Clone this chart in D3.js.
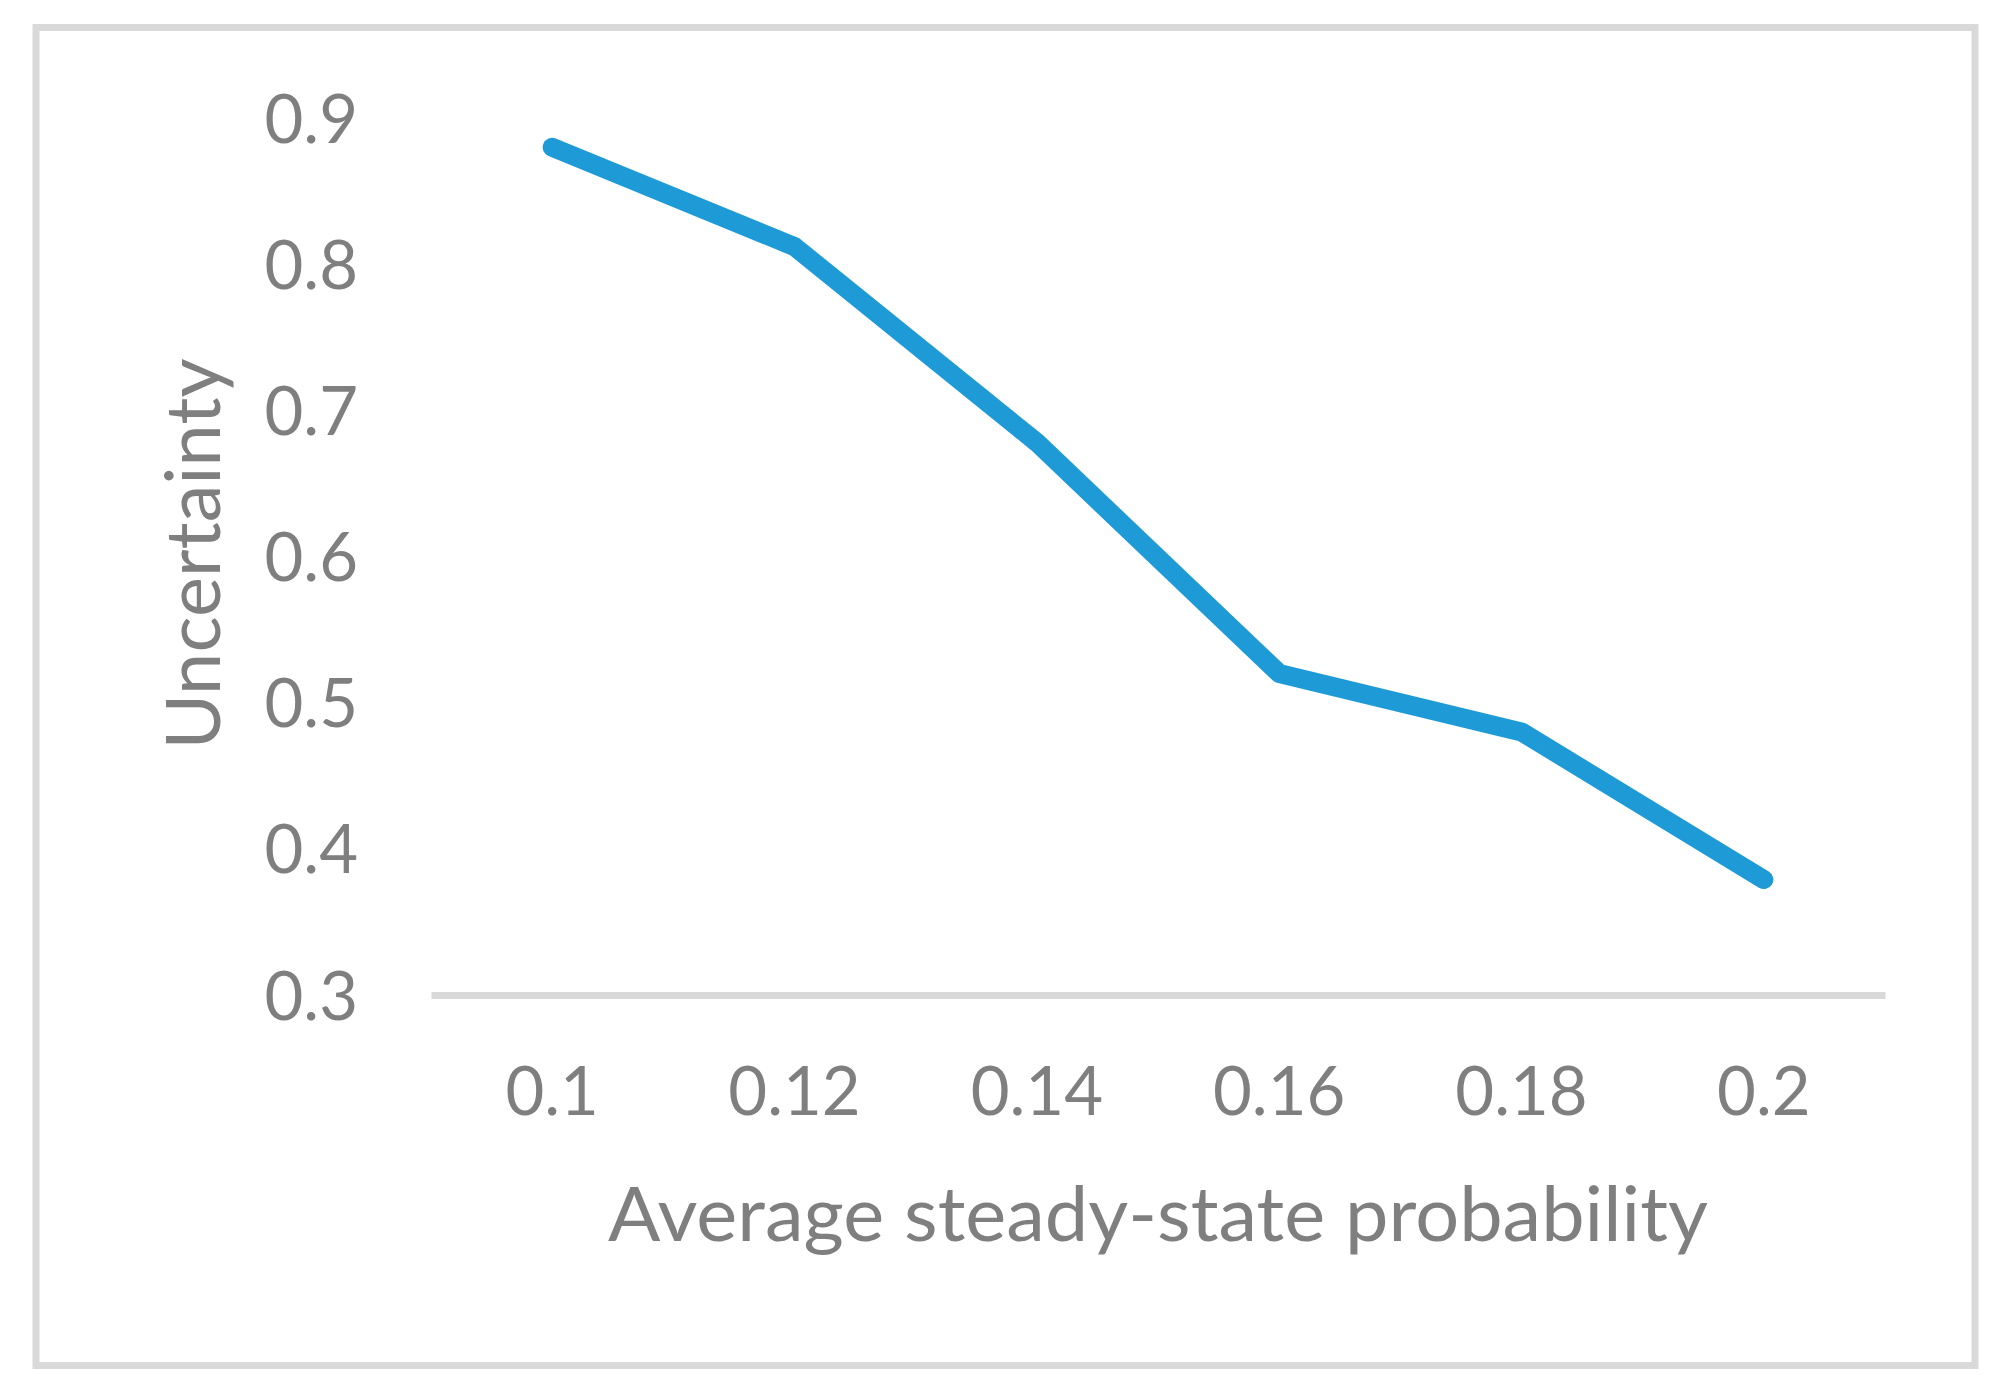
<!DOCTYPE html>
<html>
<head>
<meta charset="utf-8">
<script src="https://cdn.jsdelivr.net/npm/d3@7"></script>
<style>
  html, body { margin: 0; padding: 0; background: #fff; }
</style>
</head>
<body>
<script>
// chart data
const categories = ["0.1", "0.12", "0.14", "0.16", "0.18", "0.2"];
const uncertainty = [0.880, 0.812, 0.678, 0.520, 0.480, 0.379];
const yTicks = [0.3, 0.4, 0.5, 0.6, 0.7, 0.8, 0.9];

const width = 2008, height = 1397;
const textColor = "#7f7f7f";
const lineColor = "#1e9bd7";
const frameColor = "#d9d9d9";
const fontFamily = "Lato, 'Open Sans', sans-serif";

const svg = d3.select("body")
    .append("svg")
    .attr("width", width)
    .attr("height", height)
    .attr("font-family", fontFamily);

// outer frame
svg.append("rect")
    .attr("x", 36)
    .attr("y", 27.5)
    .attr("width", 1939)
    .attr("height", 1338)
    .attr("fill", "#fff")
    .attr("stroke", frameColor)
    .attr("stroke-width", 7);

const plot = { left: 431, right: 1885, top: 118, bottom: 995 };

const x = d3.scaleBand()
    .domain(categories)
    .range([plot.left, plot.right])
    .padding(0);

const y = d3.scaleLinear()
    .domain([0.3, 0.9])
    .range([plot.bottom, plot.top]);

// y axis labels (no line, no ticks)
const yAxis = svg.append("g")
    .attr("transform", `translate(${plot.left - 73},0)`)
    .call(d3.axisLeft(y).tickValues(yTicks).tickSize(0).tickPadding(0).tickFormat(d3.format(".1f")));
yAxis.select(".domain").remove();
yAxis.selectAll("text")
    .attr("font-family", fontFamily)
    .attr("font-size", 67)
    .attr("fill", textColor)
    .attr("dy", "0.36em");

// x axis: light grey line at the bottom, labels below
const xAxis = svg.append("g")
    .attr("transform", `translate(0,${plot.bottom})`)
    .call(d3.axisBottom(x).tickSize(0).tickPadding(0));
xAxis.select(".domain")
    .attr("stroke", frameColor)
    .attr("stroke-width", 7);
xAxis.selectAll("text")
    .attr("font-family", fontFamily)
    .attr("font-size", 67)
    .attr("fill", textColor)
    .attr("y", 120)
    .attr("dy", 0);

// the series line
const line = d3.line()
    .x((d, i) => x(categories[i]) + x.bandwidth() / 2)
    .y(d => y(d));

svg.append("path")
    .datum(uncertainty)
    .attr("d", line)
    .attr("fill", "none")
    .attr("stroke", lineColor)
    .attr("stroke-width", 19)
    .attr("stroke-linecap", "round")
    .attr("stroke-linejoin", "round");

// axis titles
svg.append("text")
    .text("Average steady-state probability")
    .attr("x", (plot.left + plot.right) / 2)
    .attr("y", 1241)
    .attr("text-anchor", "middle")
    .attr("font-size", 76)
    .attr("fill", textColor)
    .attr("textLength", 1100)
    .attr("lengthAdjust", "spacingAndGlyphs");

svg.append("text")
    .text("Uncertainty")
    .attr("transform", "translate(220,554) rotate(-90)")
    .attr("text-anchor", "middle")
    .attr("font-size", 76)
    .attr("fill", textColor)
    .attr("textLength", 391)
    .attr("lengthAdjust", "spacingAndGlyphs");
</script>
</body>
</html>
